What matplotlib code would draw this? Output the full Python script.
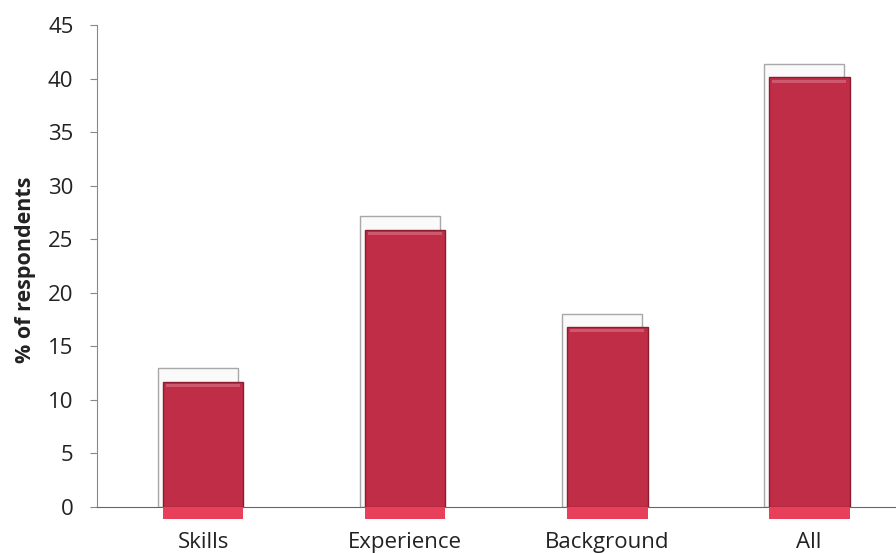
import matplotlib
matplotlib.use("Agg")
import matplotlib.pyplot as plt
import numpy as np

categories = ["Skills", "Experience", "Background", "All"]
values = [11.7, 25.9, 16.8, 40.1]
y_ticks = [0, 5, 10, 15, 20, 25, 30, 35, 40, 45]

plt.rcParams['font.family'] = ['Open Sans', 'DejaVu Sans']

fig = plt.figure(figsize=(8.96, 5.53), dpi=100)
ax = fig.add_axes([97/896, (553-507)/553, (896-97)/896, (507-25)/553])

x = np.arange(len(categories))
w = 0.40
vals = np.array(values)

# back "3D" box
ax.bar(x - 0.025, vals + 1.25, width=w, facecolor=(0.97, 0.97, 0.97, 0.6),
       edgecolor="#a8a8a8", linewidth=1.0, zorder=2)
# bottom extension below axis
ax.bar(x, np.full(len(x), -1.1), bottom=0, width=w, color="#E8405A",
       linewidth=0, zorder=3, clip_on=False)
# main bars
ax.bar(x, vals, width=w, color="#C02D47", edgecolor="#8C1C30",
       linewidth=1.0, zorder=4)
# top highlight
ax.bar(x, np.full(len(x), 0.3), bottom=vals - 0.5, width=w * 0.92,
       color="#D8788A", linewidth=0, zorder=5, alpha=0.6)

ax.set_xlim(-0.525, 3.43)
ax.set_ylim(0, 45)
ax.set_yticks(y_ticks)
ax.set_yticklabels([str(t) for t in y_ticks], fontsize=16, color="#222222")
ax.set_xticks(x)
ax.set_xticklabels(categories, fontsize=16, color="#222222")
ax.tick_params(axis='x', length=0, pad=18)
ax.tick_params(axis='y', length=5, width=0.8, color="#888888", pad=12)

for s in ["top", "right"]:
    ax.spines[s].set_visible(False)
ax.spines["left"].set_color("#888888")
ax.spines["bottom"].set_color("#666666")
ax.spines["left"].set_linewidth(0.8)
ax.spines["bottom"].set_linewidth(0.8)

ax.set_ylabel("% of respondents", fontsize=15.5, fontweight="bold", color="#222222")
ax.yaxis.set_label_coords(-0.076, (507 - 270) / 482)

fig.savefig("out.png", dpi=100)
